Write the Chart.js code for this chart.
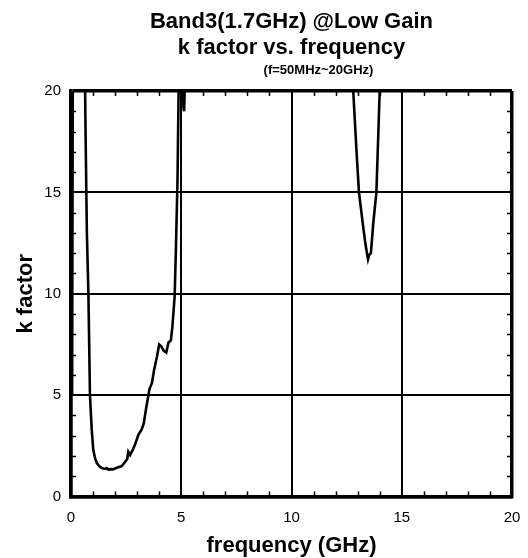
<!DOCTYPE html>
<html>
<head>
<meta charset="utf-8">
<script src="https://cdn.jsdelivr.net/npm/chart.js@4/dist/chart.umd.min.js"></script>
<style>
  html, body { margin: 0; padding: 0; background: #fff; }
  #wrap { width: 528px; height: 558px; position: relative; }
</style>
</head>
<body>
<div id="wrap"><canvas id="c" width="528" height="558"></canvas></div>
<script>
// ---- data ----
const titleLines = ["Band3(1.7GHz) @Low Gain", "k factor vs. frequency"];
const subtitle = "(f=50MHz~20GHz)";
const xTitle = "frequency (GHz)";
const yTitle = "k factor";
const xTicks = [0, 5, 10, 15, 20];
const yTicks = [0, 5, 10, 15, 20];

// frequency in GHz
const freqGHz = [0.05, 0.1, 0.3, 0.55, 0.62, 0.66, 0.72, 0.79, 0.86, 0.94,
  1.01, 1.1, 1.17, 1.3, 1.4, 1.55, 1.62, 1.7, 1.8, 1.9,
  2.08, 2.3, 2.45, 2.55, 2.6, 2.68, 2.8, 2.9, 3.06, 3.2,
  3.3, 3.4, 3.56, 3.67, 3.77, 3.9, 4.0, 4.1, 4.2, 4.32,
  4.42, 4.53, 4.6, 4.7, 4.76, 4.83, 4.88, 4.95, 5.05, 5.1,
  5.13, 5.18, 5.25, 6, 8, 10, 12, 12.6, 12.8, 12.95,
  13.06, 13.24, 13.36, 13.47, 13.52, 13.6, 13.71, 13.85, 14.0, 14.1,
  15, 17, 20];
// k factor
const kFactor = [5.0, 30, 60, 40, 22, 18, 13, 10, 5.0, 3.3,
  2.3, 1.85, 1.65, 1.48, 1.4, 1.36, 1.4, 1.33, 1.35, 1.34,
  1.42, 1.5, 1.7, 1.85, 2.2, 2.05, 2.3, 2.55, 3.05, 3.3,
  3.6, 4.3, 5.3, 5.6, 6.25, 6.9, 7.5, 7.4, 7.2, 7.1,
  7.6, 7.7, 8.4, 9.85, 12.3, 15.6, 20, 24, 22, 19.2,
  19.0, 21, 30, 60, 80, 80, 60, 30, 20, 17,
  15, 13.4, 12.4, 11.7, 11.9, 12.0, 13.5, 15, 20, 25,
  60, 80, 80];

const points = freqGHz.map((f, i) => ({ x: f, y: kFactor[i] }));

const FONT = "'Liberation Sans', Arial, sans-serif";

const decor = {
  id: 'decor',
  afterDatasetsDraw(chart) {
    const { ctx, chartArea: a, scales } = chart;
    const xs = scales.x, ys = scales.y;
    ctx.save();
    ctx.strokeStyle = '#000';
    ctx.lineWidth = 1.5;
    const L = 5;
    for (let v = 1; v < 20; v++) {
      if (v % 5 === 0) continue;
      const px = Math.round(xs.getPixelForValue(v)) + 0.5;
      ctx.beginPath();
      ctx.moveTo(px, a.bottom); ctx.lineTo(px, a.bottom - L);
      ctx.moveTo(px, a.top); ctx.lineTo(px, a.top + L);
      ctx.stroke();
      const py = Math.round(ys.getPixelForValue(v)) + 0.5;
      ctx.beginPath();
      ctx.moveTo(a.left, py); ctx.lineTo(a.left + L, py);
      ctx.moveTo(a.right, py); ctx.lineTo(a.right - L, py);
      ctx.stroke();
    }
    ctx.restore();
  },
  afterDraw(chart) {
    const { ctx, chartArea: a } = chart;
    const cx = (a.left + a.right) / 2;
    ctx.save();
    ctx.fillStyle = '#000';
    ctx.textAlign = 'center';
    ctx.textBaseline = 'middle';
    ctx.font = "bold 22px " + FONT;
    ctx.fillText(titleLines[0], cx, 22);
    ctx.fillText(titleLines[1], cx, 48);
    ctx.font = "bold 13px " + FONT;
    ctx.fillText(subtitle, cx + 27, 70);
    ctx.font = "bold 22px " + FONT;
    ctx.fillText(xTitle, cx, 546);
    ctx.translate(26, (a.top + a.bottom) / 2);
    ctx.rotate(-Math.PI / 2);
    ctx.fillText(yTitle, 0, 0);
    ctx.restore();
  }
};

const edgeWidth = (c) => (c.tick && (c.tick.value === 0 || c.tick.value === 20)) ? 3.5 : 2;

new Chart(document.getElementById('c'), {
  type: 'scatter',
  data: {
    datasets: [{
      data: points,
      showLine: true,
      borderColor: '#000',
      borderWidth: 2.6,
      pointRadius: 0,
      tension: 0,
      fill: false
    }]
  },
  options: {
    responsive: false,
    animation: false,
    events: [],
    layout: { padding: { top: 91, right: 16, left: 0, bottom: 0 } },
    plugins: { legend: { display: false }, title: { display: false }, tooltip: { enabled: false } },
    scales: {
      x: {
        type: 'linear', min: 0, max: 20,
        afterBuildTicks: (s) => { s.ticks = xTicks.map(v => ({ value: v })); },
        afterFit: (s) => { s.height = 61.5; s.paddingLeft = 0; s.paddingRight = 0; },
        ticks: { color: '#000', font: { size: 15, family: FONT }, padding: 12, maxRotation: 0 },
        grid: { color: '#000', lineWidth: edgeWidth, drawTicks: false },
        border: { color: '#000', width: 3.5 }
      },
      y: {
        type: 'linear', min: 0, max: 20,
        afterBuildTicks: (s) => { s.ticks = yTicks.map(v => ({ value: v })); },
        afterFit: (s) => { s.width = 71; s.paddingTop = 0; s.paddingBottom = 0; },
        ticks: { color: '#000', font: { size: 15, family: FONT }, padding: 10 },
        grid: { color: '#000', lineWidth: edgeWidth, drawTicks: false },
        border: { color: '#000', width: 3.5 }
      }
    }
  },
  plugins: [decor]
});
</script>
</body>
</html>
